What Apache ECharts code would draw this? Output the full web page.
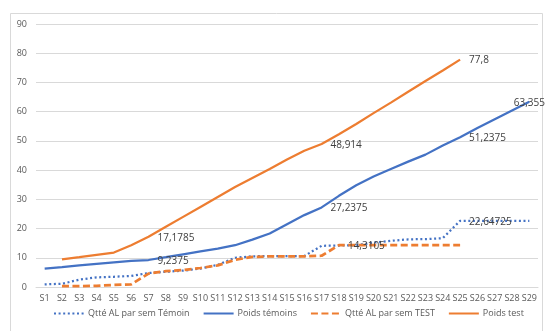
<!DOCTYPE html>
<html>
<head>
<meta charset="utf-8">
<script src="https://cdn.jsdelivr.net/npm/echarts@6/dist/echarts.min.js"></script>
<style>
  html, body { margin: 0; padding: 0; background: #ffffff; }
  #chart { width: 547px; height: 331px; }
</style>
</head>
<body>
<div id="chart"></div>
<script>
// Weeks
const categories = ['S1','S2','S3','S4','S5','S6','S7','S8','S9','S10','S11','S12','S13','S14','S15',
  'S16','S17','S18','S19','S20','S21','S22','S23','S24','S25','S26','S27','S28','S29'];

// Qtté AL par sem Témoin
const temoinQty = [0.9, 1.1, 2.5, 3.3, 3.5, 3.8, 4.8, 5.2, 5.6, 6.3, 7.6, 10.0, 10.5, 10.6, 10.6,
  10.6, 14.1, 14.2, 14.3, 15.2, 15.8, 16.3, 16.4, 16.7, 22.64725, 22.64725, 22.64725, 22.64725, 22.64725];

// Poids témoins
const temoinWeight = [6.3, 6.8, 7.4, 7.9, 8.4, 8.9, 9.2375, 10.2, 11.2, 12.2, 13.1, 14.3, 16.2, 18.3, 21.5,
  24.6, 27.2375, 31.2, 34.8, 37.8, 40.4, 42.9, 45.3, 48.4, 51.2375, 54.4, 57.4, 60.4, 63.355];

// Qtté AL par sem TEST
const testQty = [null, 0.3, 0.3, 0.4, 0.7, 0.9, 4.6, 5.4, 5.8, 6.5, 7.4, 9.3, 10.3, 10.5, 10.5,
  10.5, 10.7, 14.3105, 14.3105, 14.3105, 14.3105, 14.3105, 14.3105, 14.3105, 14.3105, null, null, null, null];

// Poids test
const testWeight = [null, 9.45, 10.2, 11.0, 11.8, 14.3, 17.1785, 20.6, 24.0, 27.4, 30.8, 34.2, 37.3, 40.4, 43.6,
  46.6, 48.914, 52.3, 55.8, 59.5, 63.1, 66.8, 70.5, 74.1, 77.8, null, null, null, null];

// Points carrying a value label (indices into categories)
const temoinQtyLabelled = [24];
const temoinWeightLabelled = [6, 16, 24, 28];
const testQtyLabelled = [17];
const testWeightLabelled = [6, 16, 24];

const BLUE = '#4472C4';
const ORANGE = '#ED7D31';
const TEXT = '#404040';
const AXIS_TEXT = '#595959';
const FONT = 'Open Sans';

function frNumber(v) {
  return String(v).replace('.', ',');
}

function withLabels(values, labelled) {
  return values.map(function (v, i) {
    if (labelled.indexOf(i) < 0 || v == null) return v;
    const last = i === categories.length - 1;
    return {
      value: v,
      symbol: 'circle',
      symbolSize: 0,
      label: {
        show: true,
        position: last ? 'inside' : 'right',
        distance: 9,
        offset: [0, 1],
        color: TEXT,
        fontFamily: FONT,
        fontSize: 10,
        formatter: function (p) { return frNumber(p.value); }
      }
    };
  });
}

const chart = echarts.init(document.getElementById('chart'), null, { renderer: 'canvas' });

chart.setOption({
  animation: false,
  backgroundColor: '#ffffff',
  graphic: [{
    type: 'rect',
    silent: true,
    shape: { x: 10.5, y: 13.5, width: 532, height: 330 },
    style: { fill: 'none', stroke: '#D9D9D9', lineWidth: 1 }
  }],
  grid: { left: 36, right: 9, top: 24, bottom: 44 },
  legend: {
    bottom: 8,
    left: 48,
    itemWidth: 30,
    itemHeight: 8,
    itemGap: 13,
    itemStyle: { opacity: 0 },
    textStyle: { color: AXIS_TEXT, fontFamily: FONT, fontSize: 9, padding: [0, 0, 0, -1] },
    data: ['Qtté AL par sem Témoin', 'Poids témoins', 'Qtté AL par sem TEST', 'Poids test']
  },
  xAxis: {
    type: 'category',
    data: categories,
    boundaryGap: true,
    axisLine: { lineStyle: { color: '#D9D9D9', width: 1 } },
    axisTick: { show: false },
    axisLabel: { interval: 0, color: AXIS_TEXT, fontFamily: FONT, fontSize: 9, margin: 7 }
  },
  yAxis: {
    type: 'value',
    min: 0,
    max: 90,
    interval: 10,
    axisLine: { show: false },
    axisTick: { show: false },
    axisLabel: { color: AXIS_TEXT, fontFamily: FONT, fontSize: 9, margin: 9 },
    splitLine: { lineStyle: { color: '#D9D9D9', width: 1 } }
  },
  series: [
    {
      name: 'Qtté AL par sem Témoin',
      type: 'line',
      symbol: 'none',
      data: withLabels(temoinQty, temoinQtyLabelled),
      itemStyle: { color: BLUE },
      lineStyle: { color: BLUE, width: 2.25, type: [2, 2.6], cap: 'butt' },
      z: 3
    },
    {
      name: 'Poids témoins',
      type: 'line',
      symbol: 'none',
      data: withLabels(temoinWeight, temoinWeightLabelled),
      itemStyle: { color: BLUE },
      lineStyle: { color: BLUE, width: 2.25 },
      z: 4
    },
    {
      name: 'Qtté AL par sem TEST',
      type: 'line',
      symbol: 'none',
      data: withLabels(testQty, testQtyLabelled),
      itemStyle: { color: ORANGE },
      lineStyle: { color: ORANGE, width: 2.75, type: [7, 3.5], cap: 'butt' },
      z: 5
    },
    {
      name: 'Poids test',
      type: 'line',
      symbol: 'none',
      data: withLabels(testWeight, testWeightLabelled),
      itemStyle: { color: ORANGE },
      lineStyle: { color: ORANGE, width: 2.25 },
      z: 6
    }
  ]
});
</script>
</body>
</html>
